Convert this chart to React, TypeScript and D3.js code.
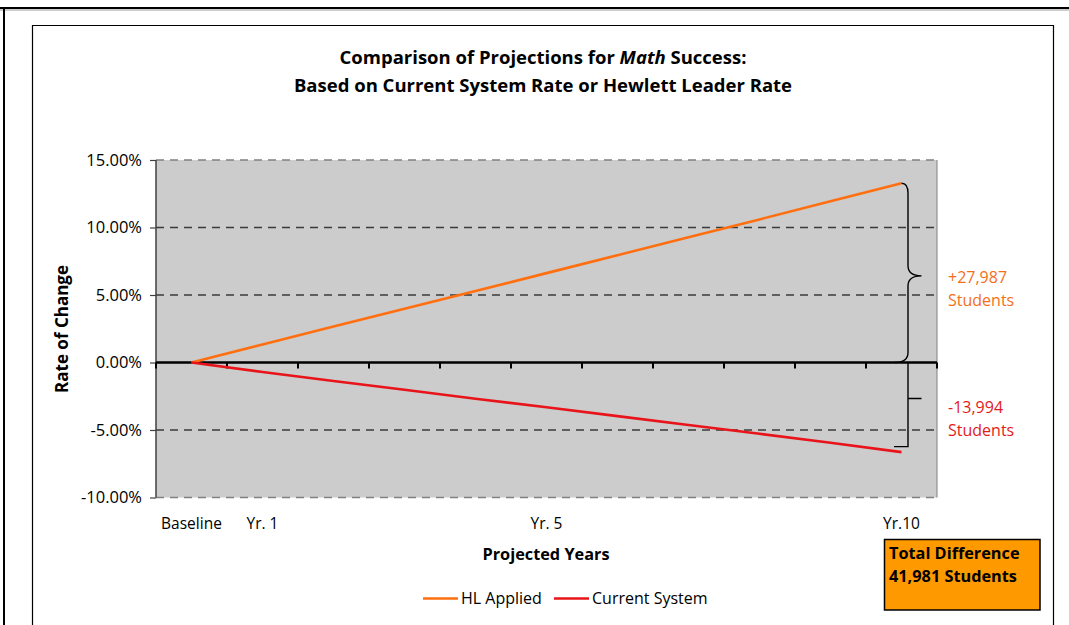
import React, { useEffect, useRef } from "react";
import * as d3 from "d3";

const categories = ["Baseline", "Yr. 1", "Yr. 2", "Yr. 3", "Yr. 4", "Yr. 5", "Yr. 6", "Yr. 7", "Yr. 8", "Yr. 9", "Yr.10"];
const xLabels = ["Baseline", "Yr. 1", "", "", "", "Yr. 5", "", "", "", "", "Yr.10"];
const hlApplied = [0, 0.0133, 0.0266, 0.0398, 0.053, 0.0662, 0.0795, 0.0928, 0.106, 0.1195, 0.1328];
const currentSystem = [0, -0.007, -0.0137, -0.0202, -0.0268, -0.0332, -0.0397, -0.0463, -0.0528, -0.0595, -0.0664];
const yTicks = [-0.1, -0.05, 0, 0.05, 0.1, 0.15];
const seriesNames = ["HL Applied", "Current System"];
const seriesColors = ["#ff6f10", "#e8141a"];

const FONT = "'Open Sans', 'DejaVu Sans', sans-serif";

export default function App() {
	const svgRef = useRef<SVGSVGElement>(null);

	useEffect(() => {
		if (!svgRef.current) return;
		const svg = d3.select(svgRef.current);
		svg.selectAll("*").remove();

		const plot = { left: 156, right: 937, top: 160, bottom: 497.5 };

		// outer frames
		svg.append("line").attr("x1", 0).attr("x2", 1069).attr("y1", 8).attr("y2", 8)
			.attr("stroke", "#000").attr("stroke-width", 2);
		svg.append("line").attr("x1", 0).attr("x2", 1069).attr("y1", 10).attr("y2", 10)
			.attr("stroke", "#999").attr("stroke-width", 1);
		svg.append("line").attr("x1", 4).attr("x2", 4).attr("y1", 8).attr("y2", 625)
			.attr("stroke", "#000").attr("stroke-width", 2);
		svg.append("path").attr("d", "M32.5,625 V25.5 H1053.5 V625")
			.attr("fill", "none").attr("stroke", "#000").attr("stroke-width", 1.2);

		// title
		const title = svg.append("text").attr("text-anchor", "middle")
			.attr("font-family", FONT).attr("font-weight", "bold").attr("font-size", 18.5).attr("fill", "#000");
		const t1 = title.append("tspan").attr("x", 543).attr("y", 64);
		t1.append("tspan").text("Comparison of Projections for ");
		t1.append("tspan").attr("font-style", "italic").text("Math");
		t1.append("tspan").text(" Success:");
		title.append("tspan").attr("x", 543).attr("y", 92).text("Based on Current System Rate or Hewlett Leader Rate");

		const x = d3.scaleBand<string>().domain(categories).range([plot.left, plot.right]).padding(0);
		const y = d3.scaleLinear().domain([-0.1, 0.15]).range([plot.bottom, plot.top]);
		const cx = (c: string) => (x(c) ?? 0) + x.bandwidth() / 2;

		// plot area
		svg.append("rect").attr("x", plot.left).attr("y", plot.top)
			.attr("width", plot.right - plot.left).attr("height", plot.bottom - plot.top)
			.attr("fill", "#cccccc");
		svg.append("line").attr("x1", plot.right).attr("x2", plot.right).attr("y1", plot.top).attr("y2", plot.bottom)
			.attr("stroke", "#808080").attr("stroke-width", 1);

		// gridlines
		svg.append("g").selectAll("line").data(yTicks.filter((t) => t !== 0)).join("line")
			.attr("x1", plot.left).attr("x2", plot.right)
			.attr("y1", (d) => y(d)).attr("y2", (d) => y(d))
			.attr("stroke", (d) => (d === 0.15 || d === -0.1 ? "#808080" : "#3a3a3a"))
			.attr("stroke-width", 1.3)
			.attr("stroke-dasharray", "8,6");

		// y axis
		const yAxis = d3.axisLeft(y).tickValues(yTicks).tickSize(6).tickPadding(8)
			.tickFormat((d) => `${((d as number) * 100).toFixed(2)}%`);
		const yg = svg.append("g").attr("transform", `translate(${plot.left},0)`).call(yAxis);
		yg.select(".domain").attr("stroke", "#404040").attr("stroke-width", 1.5).attr("d", `M0,${plot.top}V${plot.bottom}`);
		yg.selectAll(".tick line").attr("stroke", "#404040").attr("stroke-width", 1.2);
		yg.selectAll(".tick text").attr("font-family", FONT).attr("font-size", 16.5).attr("fill", "#000");

		// zero axis with category boundary ticks
		const zx = svg.append("g");
		zx.append("line").attr("x1", plot.left).attr("x2", plot.right).attr("y1", y(0)).attr("y2", y(0))
			.attr("stroke", "#000").attr("stroke-width", 2.5);
		const bounds = categories.map((c) => x(c) ?? 0).concat([plot.right]);
		zx.selectAll("line.tk").data(bounds).join("line").attr("class", "tk")
			.attr("x1", (d) => d).attr("x2", (d) => d)
			.attr("y1", y(0)).attr("y2", y(0) + 6)
			.attr("stroke", "#000").attr("stroke-width", 2);

		// x labels
		svg.append("g").selectAll("text").data(categories).join("text")
			.attr("x", (d) => cx(d)).attr("y", 529)
			.attr("text-anchor", "middle").attr("font-family", FONT).attr("font-size", 15.5).attr("fill", "#000")
			.text((d, i) => xLabels[i]);

		// lines
		const line = d3.line<number>().x((d, i) => cx(categories[i])).y((d) => y(d));
		[hlApplied, currentSystem].forEach((s, i) => {
			svg.append("path").datum(s).attr("d", line).attr("fill", "none")
				.attr("stroke", seriesColors[i]).attr("stroke-width", 2.6).attr("stroke-linejoin", "round");
		});

		// axis titles
		svg.append("text").attr("transform", `translate(68,329) rotate(-90)`)
			.attr("text-anchor", "middle").attr("font-family", FONT).attr("font-weight", "bold")
			.attr("font-size", 17).text("Rate of Change");
		svg.append("text").attr("x", 546).attr("y", 560)
			.attr("text-anchor", "middle").attr("font-family", FONT).attr("font-weight", "bold")
			.attr("font-size", 16.3).text("Projected Years");

		// legend
		const legX = [423, 554];
		const legText = [461, 592];
		seriesNames.forEach((n, i) => {
			svg.append("line").attr("x1", legX[i]).attr("x2", legX[i] + 35).attr("y1", 598.5).attr("y2", 598.5)
				.attr("stroke", seriesColors[i]).attr("stroke-width", 2.6);
			svg.append("text").attr("x", legText[i]).attr("y", 604).attr("font-family", FONT)
				.attr("font-size", 16).attr("fill", "#000").text(n);
		});

		// annotations
		const xEnd = cx(categories[categories.length - 1]);
		const yTop = y(hlApplied[hlApplied.length - 1]);
		const y0 = y(0);
		const yMid = (yTop + y0) / 2 + 3;
		const bx = xEnd + 6.5;
		const brace = d3.path();
		brace.moveTo(xEnd, yTop);
		brace.quadraticCurveTo(bx, yTop, bx, yTop + 10);
		brace.lineTo(bx, yMid - 10);
		brace.quadraticCurveTo(bx, yMid, xEnd + 20, yMid);
		brace.quadraticCurveTo(bx, yMid, bx, yMid + 10);
		brace.lineTo(bx, y0 - 10);
		brace.quadraticCurveTo(bx, y0, xEnd - 7, y0);
		svg.append("path").attr("d", brace.toString()).attr("fill", "none")
			.attr("stroke", "#000").attr("stroke-width", 1.4);

		const yBot = y(currentSystem[currentSystem.length - 1]) - 5.5;
		svg.append("path").attr("d", `M${bx},${y0}V${yBot}H${xEnd - 7.5}M${bx},${(y0 + yBot) / 2 - 6}H${xEnd + 20}`)
			.attr("fill", "none").attr("stroke", "#000").attr("stroke-width", 1.4);

		const ann = [
			{ lines: ["+27,987", "Students"], y: 283, color: "#f2701c" },
			{ lines: ["-13,994", "Students"], y: 413, color: "#e31b1b" },
		];
		ann.forEach((a) => {
			a.lines.forEach((l, j) => {
				svg.append("text").attr("x", 948).attr("y", a.y + j * 22.5).attr("font-family", FONT)
					.attr("font-size", 16).attr("fill", a.color).text(l);
			});
		});

		// total difference box
		svg.append("rect").attr("x", 884.5).attr("y", 539.5).attr("width", 155.5).attr("height", 70.5)
			.attr("fill", "#ff9900").attr("stroke", "#000").attr("stroke-width", 1.5);
		["Total Difference", "41,981 Students"].forEach((l, j) => {
			svg.append("text").attr("x", 889).attr("y", 558.5 + j * 23.5).attr("font-family", FONT)
				.attr("font-weight", "bold").attr("font-size", 16.3).attr("fill", "#000").text(l);
		});
	}, []);

	return (
		<div>
			<svg
				ref={svgRef}
				width={1069}
				height={625}
				style={{ position: "absolute", left: 0, top: 0, background: "#fff" }}
			/>
		</div>
	);
}
